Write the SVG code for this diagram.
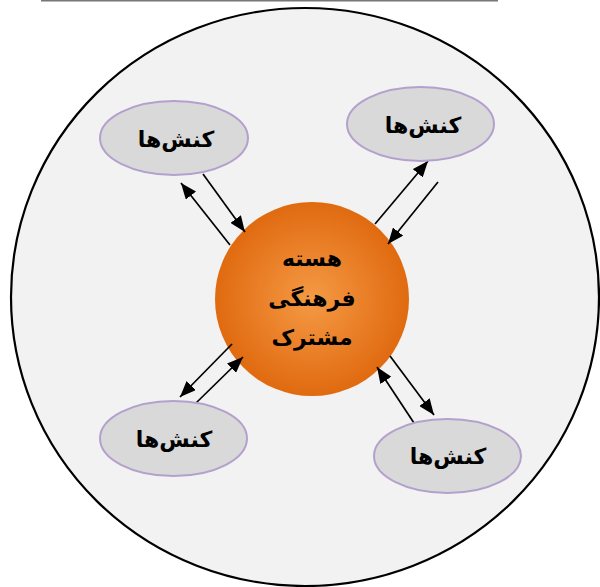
<svg xmlns="http://www.w3.org/2000/svg" width="600" height="587" viewBox="0 0 600 587">
<style>
.act{fill:#D9D9D9;stroke:#B4A0CC;stroke-width:2}
.lbl{font-family:"DejaVu Sans",sans-serif;font-weight:bold;font-size:22px;fill:#000;text-anchor:middle}
.conn line{stroke:#000;stroke-width:1.7;marker-end:url(#ah)}
</style>
<defs>
<radialGradient id="core" cx="50%" cy="50%" r="50%">
<stop offset="0" stop-color="#F59A45"/>
<stop offset="1" stop-color="#E06A10"/>
</radialGradient>
<marker id="ah" viewBox="0 0 10 10" refX="10" refY="5" markerWidth="16" markerHeight="13" markerUnits="userSpaceOnUse" orient="auto" preserveAspectRatio="none">
<path d="M0,0 L10,5 L0,10 z" fill="#000"/>
</marker>
</defs>
<rect width="600" height="587" fill="#fff"/>
<line x1="41" y1="0.5" x2="498" y2="0.5" stroke="#777" stroke-width="2"/>
<g id="outer">
<ellipse cx="305" cy="297" rx="294" ry="289" fill="#F2F2F2" stroke="#000" stroke-width="2.2"/>
</g>
<g id="core-node">
<circle cx="312" cy="299" r="97" fill="url(#core)"/>
<text class="lbl" x="312" y="266">هسته</text>
<text class="lbl" x="312" y="306">فرهنگی</text>
<text class="lbl" x="312" y="345">مشترک</text>
</g>
<g class="conn" id="connectors">
<line x1="203" y1="174" x2="245" y2="232"/>
<line x1="230" y1="245" x2="181" y2="183"/>
<line x1="375" y1="224" x2="428" y2="161"/>
<line x1="438" y1="182" x2="388" y2="244"/>
<line x1="232" y1="344" x2="180" y2="397"/>
<line x1="196" y1="403" x2="243" y2="357"/>
<line x1="390" y1="356" x2="434" y2="415"/>
<line x1="414" y1="423" x2="377" y2="367"/>
</g>
<g id="act-tl"><ellipse class="act" cx="174" cy="138" rx="74" ry="37"/><text class="lbl" x="176" y="147">کنش‌ها</text></g>
<g id="act-tr"><ellipse class="act" cx="420.5" cy="124" rx="73.5" ry="37"/><text class="lbl" x="423" y="133">کنش‌ها</text></g>
<g id="act-bl"><ellipse class="act" cx="173.5" cy="438.5" rx="73.5" ry="37.5"/><text class="lbl" x="174" y="447">کنش‌ها</text></g>
<g id="act-br"><ellipse class="act" cx="447.5" cy="456" rx="73.5" ry="37"/><text class="lbl" x="448" y="464">کنش‌ها</text></g>
</svg>
